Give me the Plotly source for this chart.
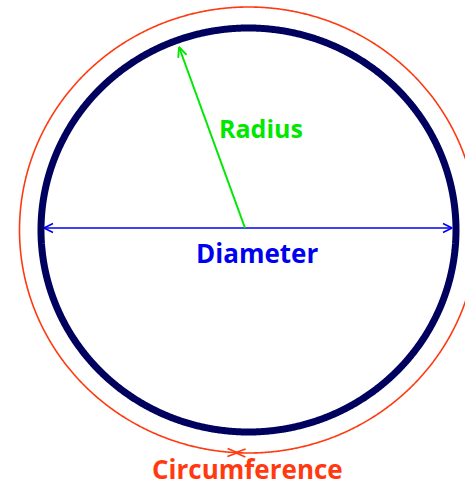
import numpy as np
import plotly.graph_objects as go

# ---- data (diagram geometry, in picture units) ----
labels = ["Radius", "Diameter", "Circumference"]
circle_center = [248.5, 230.0]
circle_radii = [207.5, 202.0]          # the circle itself (x, y radius)
circumference_radii = [229.0, 223.0]   # outer circumference guide
diameter_ends_x = [44.0, 452.0]
diameter_y = 228.0
radius_start = [245.0, 228.0]
radius_end = [179.0, 47.0]
circ_arrow_x = 236.5

W, H = 465, 486
NAVY = "#00005e"
RED = "#ff3a10"
BLUE = "#0000f0"
GREEN = "#00e800"

fig = go.Figure()

theta = np.linspace(0, 2 * np.pi, 1441)


def ellipse(r):
    return (circle_center[0] + r[0] * np.cos(theta),
            circle_center[1] + r[1] * np.sin(theta))


def add_line(xs, ys, color, width):
    fig.add_trace(go.Scatter(x=xs, y=ys, mode="lines",
                             line=dict(color=color, width=width, simplify=False),
                             hoverinfo="skip", showlegend=False))


def arrowhead(tip, frm, color, width, L=9.0, w=4.5):
    tx, ty = tip
    dx, dy = tx - frm[0], ty - frm[1]
    n = np.hypot(dx, dy)
    ux, uy = dx / n, dy / n
    px, py = -uy, ux
    bx, by = tx - L * ux, ty - L * uy
    add_line([bx + w * px, tx, bx - w * px], [by + w * py, ty, by - w * py], color, width)


# outer circumference
ex, ey = ellipse(circumference_radii)
add_line(ex, ey, RED, 1.6)
# circle
cx_, cy_ = ellipse(circle_radii)
add_line(cx_, cy_, NAVY, 7)

# diameter
add_line(diameter_ends_x, [diameter_y, diameter_y], BLUE, 1.6)
arrowhead((diameter_ends_x[0], diameter_y), (diameter_ends_x[1], diameter_y), BLUE, 1.6)
arrowhead((diameter_ends_x[1], diameter_y), (diameter_ends_x[0], diameter_y), BLUE, 1.6)

# radius
add_line([radius_start[0], radius_end[0]], [radius_start[1], radius_end[1]], GREEN, 2)
arrowhead(tuple(radius_end), tuple(radius_start), GREEN, 1.8, L=10, w=4.5)

# circumference arrows meeting at the bottom
cxc, cyc = circle_center
rx, ry = circumference_radii
tip_y = cyc + ry * np.sqrt(max(0.0, 1 - ((circ_arrow_x - cxc) / rx) ** 2))
arrowhead((circ_arrow_x + 1, tip_y), (circ_arrow_x - 20, tip_y - 0.6), RED, 1.6, L=10, w=4)
arrowhead((circ_arrow_x - 1, tip_y), (circ_arrow_x + 20, tip_y + 0.6), RED, 1.6, L=10, w=4)

font_family = "Open Sans"
fig.add_annotation(x=260.5, y=128, text="<b>%s</b>" % labels[0], showarrow=False,
                   font=dict(family=font_family, size=25, color=GREEN), xanchor="center", yanchor="middle")
fig.add_annotation(x=257, y=253, text="<b>%s</b>" % labels[1], showarrow=False,
                   font=dict(family=font_family, size=26, color=BLUE), xanchor="center", yanchor="middle")
fig.add_annotation(x=247, y=486, text="<b>%s</b>" % labels[2], showarrow=False, yshift=-3,
                   font=dict(family=font_family, size=26, color=RED), xanchor="center", yanchor="bottom")

fig.update_xaxes(range=[0, W], visible=False, fixedrange=True)
fig.update_yaxes(range=[H, 0], visible=False, fixedrange=True)
fig.update_layout(width=W, height=H, margin=dict(l=0, r=0, t=0, b=0),
                  paper_bgcolor="white", plot_bgcolor="white", showlegend=False)

fig.write_html("out.html", config={"displayModeBar": False},
               post_script="document.body.style.margin='0';document.body.style.overflow='hidden';")
